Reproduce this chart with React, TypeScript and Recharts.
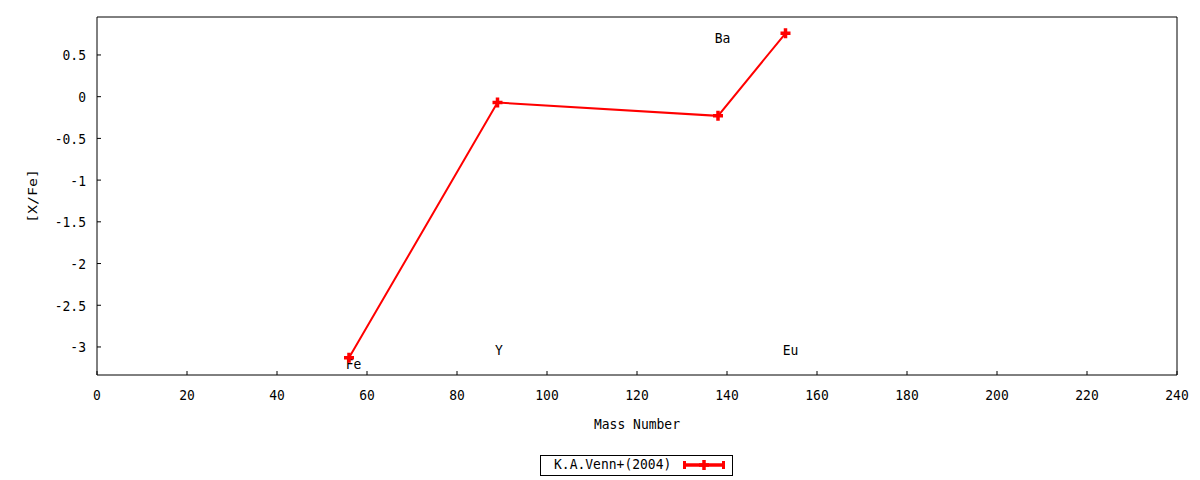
import { ComposedChart, Line, Scatter, XAxis, YAxis, Legend, Label } from 'recharts'

const massNumbers = [56, 89, 138, 153]
const abundances = [-3.13, -0.07, -0.23, 0.76]
const seriesName = 'K.A.Venn+(2004)'

const elementNames = ['Fe', 'Y', 'Ba', 'Eu']
const labelMass = [57, 89.3, 139, 154.1]
const labelValue = [-3.2, -3.03, 0.71, -3.03]

const xTicks = [0, 20, 40, 60, 80, 100, 120, 140, 160, 180, 200, 220, 240]
const yTicks = [0.5, 0, -0.5, -1, -1.5, -2, -2.5, -3]

const FONT = '"DejaVu Sans Mono", monospace'
const RED = '#ff0000'
const STRETCH = 1.15

const points = massNumbers.map((x, i) => ({ x, y: abundances[i] }))
const labels = elementNames.map((name, i) => ({ x: labelMass[i], y: labelValue[i], name }))

// gnuplot-ish text: mono font, slightly tall
const Txt = ({ x, y, anchor = 'middle', children }: any) => (
  <g transform={`translate(${x},${y}) scale(1,${STRETCH})`}>
    <text x={0} y={0} textAnchor={anchor} fontFamily={FONT} fontSize={13} fill="#000">
      {children}
    </text>
  </g>
)

const XTick = ({ x, y, payload }: any) => <Txt x={x} y={y + 25}>{payload.value}</Txt>

const YTick = ({ x, y, payload }: any) => (
  <Txt x={x} y={y + 5.5} anchor="end">{payload.value}</Txt>
)

const PlusDot = ({ cx, cy, index }: any) => {
  if (cx == null || cy == null) return null
  return (
    <path
      key={index}
      d={`M${cx - 5},${cy}H${cx + 5}M${cx},${cy - 5}V${cy + 5}`}
      stroke={RED}
      strokeWidth={3.5}
      fill="none"
    />
  )
}

const ElementLabel = ({ cx, cy, payload }: any) => (
  <Txt x={cx} y={cy + 5.5}>{payload.name}</Txt>
)

const LegendBox = () => (
  <svg width={194} height={21} style={{ display: 'block' }}>
    <rect x={0.5} y={0.5} width={192} height={20} fill="#fff" stroke="#000" />
    <Txt x={14} y={14} anchor="start">{seriesName}</Txt>
    <line x1={143} y1={10} x2={185} y2={10} stroke={RED} strokeWidth={3.5} />
    <line x1={144.5} y1={6} x2={144.5} y2={14} stroke={RED} strokeWidth={3} />
    <line x1={183.5} y1={6} x2={183.5} y2={14} stroke={RED} strokeWidth={3} />
    <path d="M159,10H169M164,5V15" stroke={RED} strokeWidth={3.5} />
  </svg>
)

export default function App() {
  return (
    <div style={{ position: 'absolute', left: 0, top: 0, background: '#fff' }}>
      <ComposedChart
        width={1200}
        height={480}
        data={points}
        margin={{ top: 16, right: 22, bottom: 45, left: 17 }}
      >
        <XAxis
          dataKey="x"
          type="number"
          domain={[0, 240]}
          ticks={xTicks}
          allowDataOverflow
          height={60}
          tickSize={-4}
          tickMargin={4}
          tick={<XTick />}
          axisLine={{ stroke: '#000' }}
          tickLine={{ stroke: '#000' }}
        >
          <Label
            content={({ viewBox }: any) => (
              <Txt x={viewBox.x + viewBox.width / 2} y={viewBox.y + 54}>Mass Number</Txt>
            )}
          />
        </XAxis>
        <XAxis
          xAxisId="top"
          orientation="top"
          type="number"
          domain={[0, 240]}
          ticks={xTicks}
          allowDataOverflow
          height={1}
          tickSize={-4}
          tick={false}
          axisLine={{ stroke: '#000' }}
          tickLine={{ stroke: '#000' }}
        />
        <YAxis
          type="number"
          domain={[-3.336, 0.955]}
          ticks={yTicks}
          allowDataOverflow
          width={80}
          tickSize={-4}
          tickMargin={15}
          tick={<YTick />}
          axisLine={{ stroke: '#000' }}
          tickLine={{ stroke: '#000' }}
        >
          <Label
            content={({ viewBox }: any) => (
              <text
                transform={`translate(${viewBox.x + 20},${viewBox.y + viewBox.height / 2}) rotate(-90) scale(${STRETCH},1)`}
                textAnchor="middle"
                fontFamily={FONT}
                fontSize={13}
                fill="#000"
              >
                [X/Fe]
              </text>
            )}
          />
        </YAxis>
        <YAxis
          yAxisId="r"
          orientation="right"
          type="number"
          domain={[-3.336, 0.955]}
          ticks={yTicks}
          allowDataOverflow
          width={1}
          tickSize={-4}
          tick={false}
          axisLine={{ stroke: '#000' }}
          tickLine={{ stroke: '#000' }}
        />
        <Scatter
          data={labels}
          dataKey="y"
          shape={ElementLabel}
          legendType="none"
          isAnimationActive={false}
        />
        <Line
          dataKey="y"
          name={seriesName}
          stroke={RED}
          strokeWidth={2}
          dot={PlusDot}
          activeDot={false}
          isAnimationActive={false}
        />
        <Legend
          layout="horizontal"
          verticalAlign="middle"
          align="center"
          wrapperStyle={{ left: 540, top: 455, width: 194, height: 21 }}
          content={() => <LegendBox />}
        />
      </ComposedChart>
    </div>
  )
}
